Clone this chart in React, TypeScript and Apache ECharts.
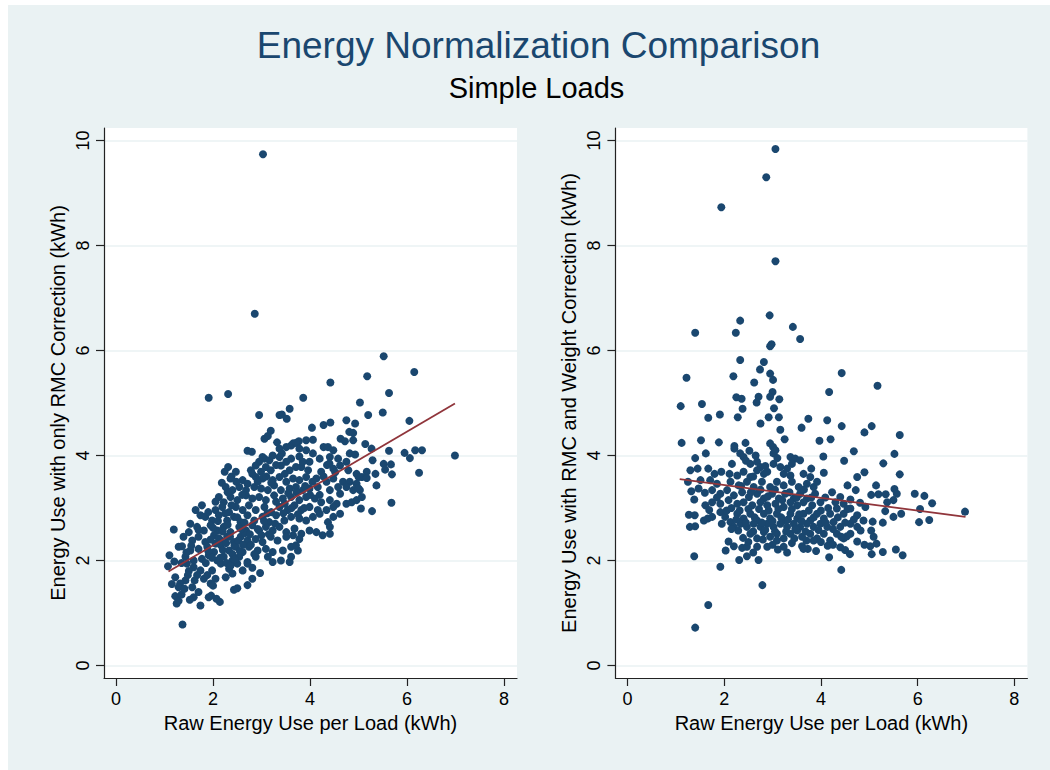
import React, { useEffect, useRef } from "react";
import * as echarts from "echarts";

const titleText = "Energy Normalization Comparison";
const subtitleText = "Simple Loads";
const xTitle = "Raw Energy Use per Load (kWh)";
const leftYTitle = "Energy Use with only RMC Correction (kWh)";
const rightYTitle = "Energy Use with RMC and Weight Correction (kWh)";

const xTicks = [0, 2, 4, 6, 8];
const yTicks = [0, 2, 4, 6, 8, 10];

const leftFit: [number, number][] = [[1.08, 1.79], [6.99, 4.99]];
const rightFit: [number, number][] = [[1.08, 3.55], [6.99, 2.83]];

const leftPoints: [number, number][] = [
  [3.03, 9.74], [2.86, 6.70],
  [5.52, 5.89], [6.15, 5.59], [5.18, 5.51], [4.42, 5.39], [5.63, 5.19], [1.91, 5.10], [2.31, 5.17], [3.86, 5.10], [5.03, 5.01], [3.58, 4.89], [2.95, 4.77], [3.37, 4.77], [3.42, 4.78], [3.52, 4.70], [5.20, 4.77], [5.50, 4.82], [6.05, 4.66], [4.75, 4.67], [4.93, 4.61],
  [4.04, 4.53], [4.28, 4.58], [4.42, 4.63], [3.19, 4.47], [4.81, 4.45], [4.89, 4.43],
  [3.06, 4.32], [3.13, 4.37], [3.32, 4.25], [3.65, 4.23], [3.77, 4.27], [3.92, 4.29], [4.06, 4.30], [4.63, 4.32], [4.72, 4.27], [4.89, 4.29], [5.14, 4.22], [3.61, 4.19], [3.71, 4.24],
  [2.71, 4.09], [2.80, 4.07], [3.37, 4.13], [3.51, 4.16], [3.78, 4.13], [4.06, 4.04], [4.28, 4.16], [4.37, 4.16], [4.48, 4.10], [4.82, 4.04], [4.93, 4.02], [5.27, 4.13], [5.63, 4.09], [5.95, 4.05], [6.17, 4.10], [6.31, 4.10], [3.42, 4.04], [3.92, 4.10],
  [2.95, 3.88], [3.06, 3.94], [3.16, 3.91], [3.02, 3.97], [3.37, 3.97], [3.61, 3.94], [3.78, 3.98], [3.99, 3.88], [4.20, 3.94], [4.41, 3.97], [4.58, 3.94], [5.52, 3.84], [5.67, 3.83], [6.06, 3.95], [6.99, 4.00], [5.29, 3.91], [4.75, 3.88], [3.51, 3.88], [3.23, 4.00],
  [2.31, 3.78], [2.24, 3.69], [2.38, 3.60], [2.47, 3.69], [2.88, 3.81], [3.09, 3.78], [3.19, 3.72], [3.40, 3.81], [3.58, 3.72], [3.71, 3.78], [3.82, 3.78], [3.96, 3.72], [4.23, 3.69], [4.48, 3.75], [4.62, 3.81], [4.79, 3.72], [4.96, 3.65], [5.17, 3.69], [5.35, 3.65], [5.55, 3.73], [5.69, 3.64], [6.25, 3.67], [2.78, 3.72], [2.99, 3.69],
  [2.18, 3.48], [2.61, 3.53], [2.71, 3.46], [2.88, 3.59], [3.02, 3.56], [3.23, 3.53], [3.37, 3.59], [3.51, 3.50], [3.65, 3.56], [3.78, 3.53], [3.92, 3.59], [4.13, 3.56], [4.34, 3.50], [4.48, 3.56], [4.68, 3.50], [4.82, 3.50], [4.96, 3.46], [5.07, 3.59], [5.17, 3.57], [5.00, 3.59], [2.36, 3.56], [2.81, 3.65],
  [2.26, 3.40], [2.40, 3.34], [2.54, 3.40], [2.68, 3.34], [2.85, 3.40], [2.99, 3.37], [3.13, 3.34], [3.26, 3.43], [3.40, 3.34], [3.58, 3.37], [3.71, 3.40], [3.85, 3.34], [3.99, 3.37], [4.16, 3.40], [4.41, 3.34], [4.62, 3.27], [4.75, 3.40], [4.89, 3.34], [5.03, 3.34], [5.37, 3.43], [5.00, 3.37],
  [2.12, 3.21], [2.22, 3.11], [2.36, 3.21], [2.50, 3.15], [2.68, 3.24], [2.81, 3.18], [2.95, 3.21], [3.09, 3.15], [3.26, 3.24], [3.44, 3.18], [3.61, 3.21], [3.78, 3.15], [3.92, 3.21], [4.10, 3.18], [4.23, 3.11], [4.41, 3.15], [4.55, 3.08], [4.75, 3.08], [4.86, 3.11], [4.96, 3.15], [5.07, 3.21], [5.68, 3.10],
  [1.64, 2.96], [1.77, 3.05], [2.05, 2.96], [2.19, 3.02], [2.33, 2.92], [2.47, 3.02], [2.61, 2.96], [2.74, 3.05], [2.88, 2.96], [3.06, 3.02], [3.20, 2.92], [3.37, 3.02], [3.54, 2.96], [3.68, 3.05], [3.82, 2.96], [3.99, 3.02], [4.16, 2.96], [4.34, 2.96], [4.48, 3.02], [4.62, 2.89], [5.05, 2.99], [5.28, 2.94],
  [1.74, 2.86], [1.53, 2.70], [1.84, 2.83], [1.98, 2.76], [2.12, 2.86], [2.29, 2.76], [2.43, 2.83], [2.57, 2.73], [2.71, 2.86], [2.85, 2.76], [3.02, 2.83], [3.16, 2.73], [3.30, 2.86], [3.47, 2.76], [3.61, 2.83], [3.78, 2.80], [3.92, 2.76], [4.06, 2.83], [4.20, 2.89], [4.48, 2.83], [4.37, 2.73],
  [1.19, 2.59], [1.50, 2.54], [1.67, 2.64], [1.81, 2.57], [1.95, 2.67], [2.09, 2.57], [2.22, 2.64], [2.36, 2.54], [2.54, 2.64], [2.68, 2.57], [2.81, 2.67], [2.95, 2.57], [3.09, 2.64], [3.23, 2.57], [3.37, 2.64], [3.51, 2.54], [3.68, 2.61], [3.82, 2.51], [3.99, 2.57], [4.13, 2.54], [4.26, 2.48], [4.41, 2.51], [4.41, 2.64],
  [1.39, 2.45], [1.57, 2.38], [1.70, 2.45], [1.84, 2.35], [2.02, 2.48], [2.16, 2.38], [2.29, 2.45], [2.43, 2.35], [2.57, 2.45], [2.71, 2.38], [2.88, 2.41], [3.02, 2.35], [3.19, 2.45], [3.33, 2.38], [3.51, 2.45], [3.65, 2.48], [3.78, 2.41],
  [1.29, 2.26], [1.36, 2.27], [1.53, 2.19], [1.70, 2.22], [1.88, 2.26], [2.02, 2.16], [2.16, 2.29], [2.33, 2.19], [2.47, 2.26], [2.61, 2.16], [2.74, 2.26], [2.92, 2.19], [3.09, 2.22], [3.23, 2.16], [3.44, 2.19], [3.61, 2.26], [3.75, 2.19], [3.71, 2.29],
  [1.10, 2.10], [1.43, 2.07], [1.60, 2.00], [1.77, 2.03], [1.91, 2.10], [2.09, 2.00], [2.22, 2.07], [2.40, 2.00], [2.54, 2.07], [2.71, 1.97], [2.88, 2.07], [3.13, 2.07], [3.23, 1.97], [3.40, 2.00], [3.58, 1.97], [3.61, 2.07],
  [1.07, 1.89], [1.46, 1.94], [1.60, 1.87], [1.74, 1.81], [1.98, 1.81], [2.16, 1.94], [2.33, 1.84], [2.50, 1.94], [2.61, 1.81], [2.71, 1.94], [2.81, 1.86], [2.97, 1.76], [2.40, 1.75],
  [1.22, 1.68], [1.43, 1.62], [1.67, 1.72], [1.81, 1.65], [2.05, 1.65], [1.95, 1.56], [2.26, 1.68], [1.32, 1.56], [2.81, 1.65], [2.71, 1.53], [1.29, 1.49], [1.57, 1.49],
  [1.41, 1.46], [1.70, 1.40], [2.43, 1.44], [2.50, 1.47], [1.22, 1.32], [1.60, 1.30], [1.96, 1.33], [1.91, 1.30],
  [1.25, 1.18], [1.29, 1.23], [1.74, 1.14], [2.14, 1.21], [2.07, 1.27], [1.37, 0.78],
];

const leftCorePoints: [number, number][] = [
  [2.05, 2.32], [2.12, 2.42], [2.20, 2.20], [2.27, 2.33], [2.35, 2.45], [2.40, 2.12], [2.44, 2.28], [2.52, 2.38], [2.20, 2.55], [2.30, 2.68],
  [2.15, 2.05], [2.28, 1.95], [2.36, 1.90], [2.45, 2.02], [2.55, 2.18], [2.62, 2.30], [2.66, 2.52], [1.95, 2.40], [1.90, 2.18], [1.98, 2.05],
  [2.00, 2.62], [2.10, 2.75], [2.25, 2.90], [2.38, 3.05], [2.50, 2.82], [2.58, 2.60], [2.65, 2.72], [2.76, 2.50], [2.78, 2.30], [2.85, 2.12],
  [2.92, 2.60], [3.00, 2.48], [3.05, 2.75], [3.12, 2.90], [3.15, 2.50], [3.28, 2.70], [3.30, 3.12], [3.45, 2.90], [3.48, 3.08], [3.55, 3.28],
  [3.62, 3.00], [3.72, 3.30], [3.75, 2.88], [3.88, 3.00], [3.90, 3.42], [4.00, 3.25], [4.05, 3.50], [4.20, 3.25], [4.28, 3.60], [4.35, 3.82],
  [4.52, 3.68], [4.58, 3.40], [4.40, 3.85], [3.85, 3.88], [3.30, 3.82], [3.48, 3.65], [3.20, 3.48], [3.10, 3.60], [2.92, 3.50], [2.60, 3.25],
  [2.48, 3.50], [2.30, 3.30], [2.05, 3.12], [1.90, 2.92], [1.70, 2.58], [1.55, 2.28], [1.45, 2.15], [1.35, 1.95], [1.50, 1.80], [1.62, 1.62],
  [1.85, 1.95], [1.88, 1.72], [2.00, 1.52], [1.48, 1.72], [1.20, 1.98], [1.15, 1.55], [1.35, 1.35], [1.52, 1.25],
];

const rightPoints: [number, number][] = [
  [3.06, 9.84], [2.87, 9.30], [1.94, 8.73], [3.06, 7.70], [2.94, 6.67], [2.33, 6.57], [1.40, 6.34], [2.24, 6.34], [3.42, 6.45], [3.57, 6.22], [2.98, 6.12], [2.95, 6.08],
  [2.33, 5.82], [2.82, 5.78], [2.74, 5.64], [2.95, 5.56], [3.01, 5.44], [1.22, 5.48], [2.19, 5.51], [2.62, 5.39], [4.43, 5.57], [5.17, 5.33], [4.17, 5.21], [3.00, 5.21], [2.95, 5.12], [2.25, 5.11], [2.36, 5.08], [2.71, 5.12], [2.67, 5.01], [3.14, 5.07],
  [1.10, 4.94], [1.54, 4.98], [2.38, 4.89], [3.03, 4.90], [1.91, 4.78], [1.67, 4.72], [2.28, 4.73], [2.92, 4.73], [3.13, 4.73], [3.74, 4.70], [4.13, 4.67],
  [2.75, 4.61], [3.16, 4.49], [3.25, 4.31], [3.60, 4.53], [4.43, 4.56], [3.97, 4.28], [4.20, 4.31], [5.05, 4.56], [4.90, 4.44], [5.63, 4.39], [1.12, 4.24], [1.52, 4.29], [1.89, 4.25], [2.21, 4.18], [2.44, 4.24], [2.95, 4.23], [3.01, 4.16], [3.02, 4.04], [3.06, 4.10],
  [1.62, 4.04], [1.40, 3.95], [2.33, 4.04], [2.52, 4.09], [2.21, 4.13], [2.40, 3.97], [2.16, 3.84], [2.54, 3.84], [2.68, 3.88], [2.75, 3.78], [2.89, 3.69], [3.02, 3.84], [3.16, 3.78], [3.37, 3.97], [3.47, 3.94], [3.57, 3.91], [3.40, 3.84], [4.05, 3.98], [4.48, 3.90], [4.68, 4.08], [5.52, 4.03], [5.29, 3.85], [3.80, 3.75], [4.06, 3.67], [4.90, 3.68], [4.75, 3.59], [5.63, 3.64], [2.68, 3.72], [2.82, 3.65], [3.23, 3.65], [3.64, 3.65], [3.78, 3.59], [3.37, 3.62],
  [1.25, 3.50], [1.30, 3.72], [1.45, 3.75], [1.67, 3.75], [1.80, 3.65], [1.94, 3.69], [2.11, 3.65], [2.27, 3.62], [2.40, 3.69], [2.54, 3.59], [2.13, 3.50], [2.30, 3.43], [2.47, 3.50], [2.61, 3.40], [2.78, 3.50], [2.95, 3.40], [3.09, 3.50], [3.23, 3.43], [3.40, 3.50], [3.54, 3.40], [3.71, 3.46], [3.85, 3.40], [3.92, 3.50], [1.71, 3.53], [1.85, 3.46], [1.51, 3.53],
  [1.32, 3.32], [1.38, 3.16], [1.47, 3.37], [1.60, 3.29], [1.75, 3.34], [1.92, 3.27], [2.06, 3.34], [2.20, 3.24], [2.37, 3.30], [2.51, 3.21], [2.68, 3.27], [2.82, 3.18], [2.99, 3.27], [3.13, 3.18], [3.26, 3.27], [3.44, 3.18], [3.57, 3.27], [3.71, 3.18], [3.88, 3.27], [4.09, 3.20], [4.23, 3.30], [4.55, 3.43], [4.72, 3.34], [5.14, 3.43], [5.52, 3.36], [5.04, 3.25], [5.19, 3.26], [5.34, 3.26], [5.50, 3.15], [5.37, 3.11], [5.57, 3.27], [5.94, 3.27], [6.14, 3.23], [6.30, 3.09], [4.61, 3.16], [4.81, 3.10], [4.92, 3.02], [4.40, 3.21], [4.47, 3.08], [4.30, 3.11], [3.99, 3.11],
  [1.92, 3.08], [2.09, 3.15], [2.27, 3.08], [2.40, 3.11], [2.58, 3.05], [2.75, 3.11], [2.89, 3.05], [3.06, 3.08], [3.23, 3.02], [3.37, 3.11], [3.51, 3.05], [3.64, 3.11], [3.82, 3.05], [1.61, 3.05], [1.75, 3.11],
  [1.27, 2.87], [1.39, 2.86], [1.29, 2.64], [1.40, 2.65], [1.69, 2.96], [1.66, 2.80], [1.58, 2.76], [1.75, 2.83], [1.92, 2.92], [2.02, 2.83], [2.13, 2.73], [2.27, 2.89], [2.40, 2.80], [2.54, 2.89], [2.68, 2.76], [2.82, 2.89], [2.95, 2.80], [3.09, 2.89], [3.23, 2.76], [3.37, 2.89], [3.51, 2.80], [3.64, 2.89], [3.78, 2.76], [3.92, 2.89], [4.06, 2.80], [4.19, 2.89], [4.33, 2.99], [4.47, 2.89], [4.61, 2.99], [4.75, 2.86], [4.88, 2.76], [5.07, 2.74], [5.28, 2.72], [5.33, 2.94], [5.66, 2.89], [5.50, 2.83], [6.05, 2.98], [6.24, 2.77], [6.03, 2.73], [6.98, 2.93],
  [2.20, 2.64], [2.34, 2.70], [2.47, 2.64], [2.61, 2.70], [2.75, 2.64], [2.89, 2.70], [3.02, 2.64], [3.16, 2.70], [3.30, 2.64], [3.44, 2.70], [3.57, 2.64], [3.71, 2.70], [3.85, 2.64], [3.99, 2.70], [4.13, 2.64], [4.26, 2.73], [4.40, 2.64], [4.61, 2.70], [4.75, 2.64],
  [2.29, 2.57], [2.39, 2.43], [2.54, 2.51], [2.68, 2.42], [2.82, 2.54], [2.95, 2.45], [3.09, 2.51], [3.23, 2.42], [3.37, 2.51], [3.51, 2.57], [3.61, 2.45], [3.78, 2.51], [3.92, 2.42], [4.06, 2.51], [4.19, 2.38], [4.33, 2.51], [4.47, 2.42], [4.61, 2.51], [4.82, 2.57], [5.09, 2.45], [5.04, 2.57],
  [2.09, 2.36], [2.20, 2.27], [2.37, 2.24], [2.47, 2.26], [2.68, 2.26], [2.89, 2.26], [3.09, 2.38], [3.23, 2.26], [3.40, 2.33], [3.61, 2.27], [3.73, 2.22], [3.85, 2.38], [4.14, 2.28], [4.40, 2.25], [4.54, 2.46], [4.75, 2.36], [4.90, 2.30], [5.02, 2.27], [5.15, 2.32], [2.03, 2.19],
  [5.55, 2.21], [5.69, 2.10], [5.28, 2.16], [5.05, 2.12], [4.60, 2.12], [4.42, 1.82], [4.17, 2.06], [2.79, 1.53], [1.92, 1.88], [2.71, 2.01], [2.31, 2.01], [2.47, 2.08], [1.38, 2.08], [1.67, 1.15], [1.40, 0.72], [3.11, 2.21], [3.64, 2.22],
];

const rightCorePoints: [number, number][] = [
  [2.05, 2.95], [2.15, 2.60], [2.25, 2.78], [2.32, 2.95], [2.45, 2.72], [2.50, 2.98], [2.60, 2.55], [2.63, 2.82], [2.72, 2.98], [2.78, 2.72],
  [2.85, 2.58], [2.92, 2.95], [3.00, 2.75], [3.05, 2.55], [3.12, 2.98], [3.18, 2.82], [3.28, 2.55], [3.32, 2.78], [3.40, 2.98], [3.47, 2.60],
  [3.55, 2.88], [3.60, 2.75], [3.68, 2.55], [3.75, 2.95], [3.85, 2.82], [3.95, 2.58], [4.00, 2.95], [4.10, 2.72], [4.15, 3.00], [4.25, 2.60],
  [4.35, 2.82], [4.42, 2.45], [4.50, 2.72], [4.55, 2.98], [4.68, 2.78], [2.55, 3.30], [2.75, 3.35], [2.90, 3.22], [3.05, 3.35], [3.20, 3.15],
  [3.35, 3.30], [3.50, 3.20], [3.65, 3.35], [3.80, 3.20], [2.35, 3.42], [2.15, 3.00], [1.95, 2.70], [1.85, 3.20], [2.60, 3.60], [2.85, 3.80],
  [3.10, 3.95], [2.45, 3.90], [2.65, 4.00], [3.30, 3.75], [2.50, 2.35], [2.80, 2.40], [3.00, 2.30], [3.45, 2.42], [3.70, 2.38], [4.00, 2.35],
  [4.25, 2.30], [2.60, 2.15], [3.30, 2.15], [3.90, 2.18], [4.50, 2.20],
];

const FONT = "'Liberation Sans', Arial, Helvetica, sans-serif";
const NAVY = "#1a476f";
const BG = "#eaf2f3";

function xAxisCfg(gridIndex: number) {
  return {
    type: "value",
    gridIndex,
    min: -0.25,
    max: 8.27,
    name: xTitle,
    nameLocation: "middle",
    nameGap: 32,
    nameTextStyle: { fontSize: 20, color: "#000", fontFamily: FONT },
    axisLine: { show: true, onZero: false, lineStyle: { color: "#222", width: 1.2 } },
    axisTick: { show: true, length: 8, customValues: xTicks, lineStyle: { color: "#222", width: 1.2 } },
    axisLabel: { customValues: xTicks, fontSize: 18, color: "#000", fontFamily: FONT, margin: 12 },
    splitLine: { show: false },
  };
}

function yAxisCfg(gridIndex: number, name: string) {
  return {
    type: "value",
    gridIndex,
    min: -0.24,
    max: 10.24,
    name,
    nameLocation: "middle",
    nameGap: 36,
    nameRotate: 90,
    nameTextStyle: { fontSize: 20, color: "#000", fontFamily: FONT },
    axisLine: { show: true, onZero: false, lineStyle: { color: "#222", width: 1.2 } },
    axisTick: { show: true, length: 8, customValues: yTicks, lineStyle: { color: "#222", width: 1.2 } },
    axisLabel: { customValues: yTicks, rotate: 90, fontSize: 18, color: "#000", fontFamily: FONT, margin: 12 },
    splitLine: { show: true, lineStyle: { color: BG, width: 1.5 } },
  };
}

function scatterSeries(idx: number, data: [number, number][]) {
  return {
    type: "scatter",
    xAxisIndex: idx,
    yAxisIndex: idx,
    data,
    symbol: "circle",
    symbolSize: 8,
    itemStyle: { color: NAVY, opacity: 1 },
    z: 2,
  };
}

function fitSeries(idx: number, data: [number, number][]) {
  return {
    type: "line",
    xAxisIndex: idx,
    yAxisIndex: idx,
    data,
    showSymbol: false,
    lineStyle: { color: "#90353b", width: 1.8 },
    z: 3,
  };
}

export default function App() {
  const ref = useRef<HTMLDivElement>(null);
  useEffect(() => {
    if (!ref.current) return;
    const chart = echarts.init(ref.current, undefined, { renderer: "svg" });
    chart.setOption({
      animation: false,
      backgroundColor: BG,
      graphic: [
        {
          type: "text",
          x: 530.5,
          y: 40,
          style: { text: titleText, font: `37px ${FONT}`, fill: NAVY, textAlign: "center", textVerticalAlign: "middle" },
        },
        {
          type: "text",
          x: 528.5,
          y: 83,
          style: { text: subtitleText, font: `29px ${FONT}`, fill: "#000", textAlign: "center", textVerticalAlign: "middle" },
        },
      ],
      grid: [
        { left: 96, top: 123, width: 413, height: 550, show: true, backgroundColor: "#fff", borderWidth: 0 },
        { left: 607.4, top: 123, width: 412, height: 550, show: true, backgroundColor: "#fff", borderWidth: 0 },
      ],
      xAxis: [xAxisCfg(0), xAxisCfg(1)],
      yAxis: [yAxisCfg(0, leftYTitle), yAxisCfg(1, rightYTitle)],
      series: [
        scatterSeries(0, leftPoints),
        scatterSeries(0, leftCorePoints),
        fitSeries(0, leftFit),
        scatterSeries(1, rightPoints),
        scatterSeries(1, rightCorePoints),
        fitSeries(1, rightFit),
      ],
    });
    return () => chart.dispose();
  }, []);
  return (
    <div
      ref={ref}
      style={{ position: "fixed", left: 8, top: 5, width: 1042, height: 765 }}
    />
  );
}
